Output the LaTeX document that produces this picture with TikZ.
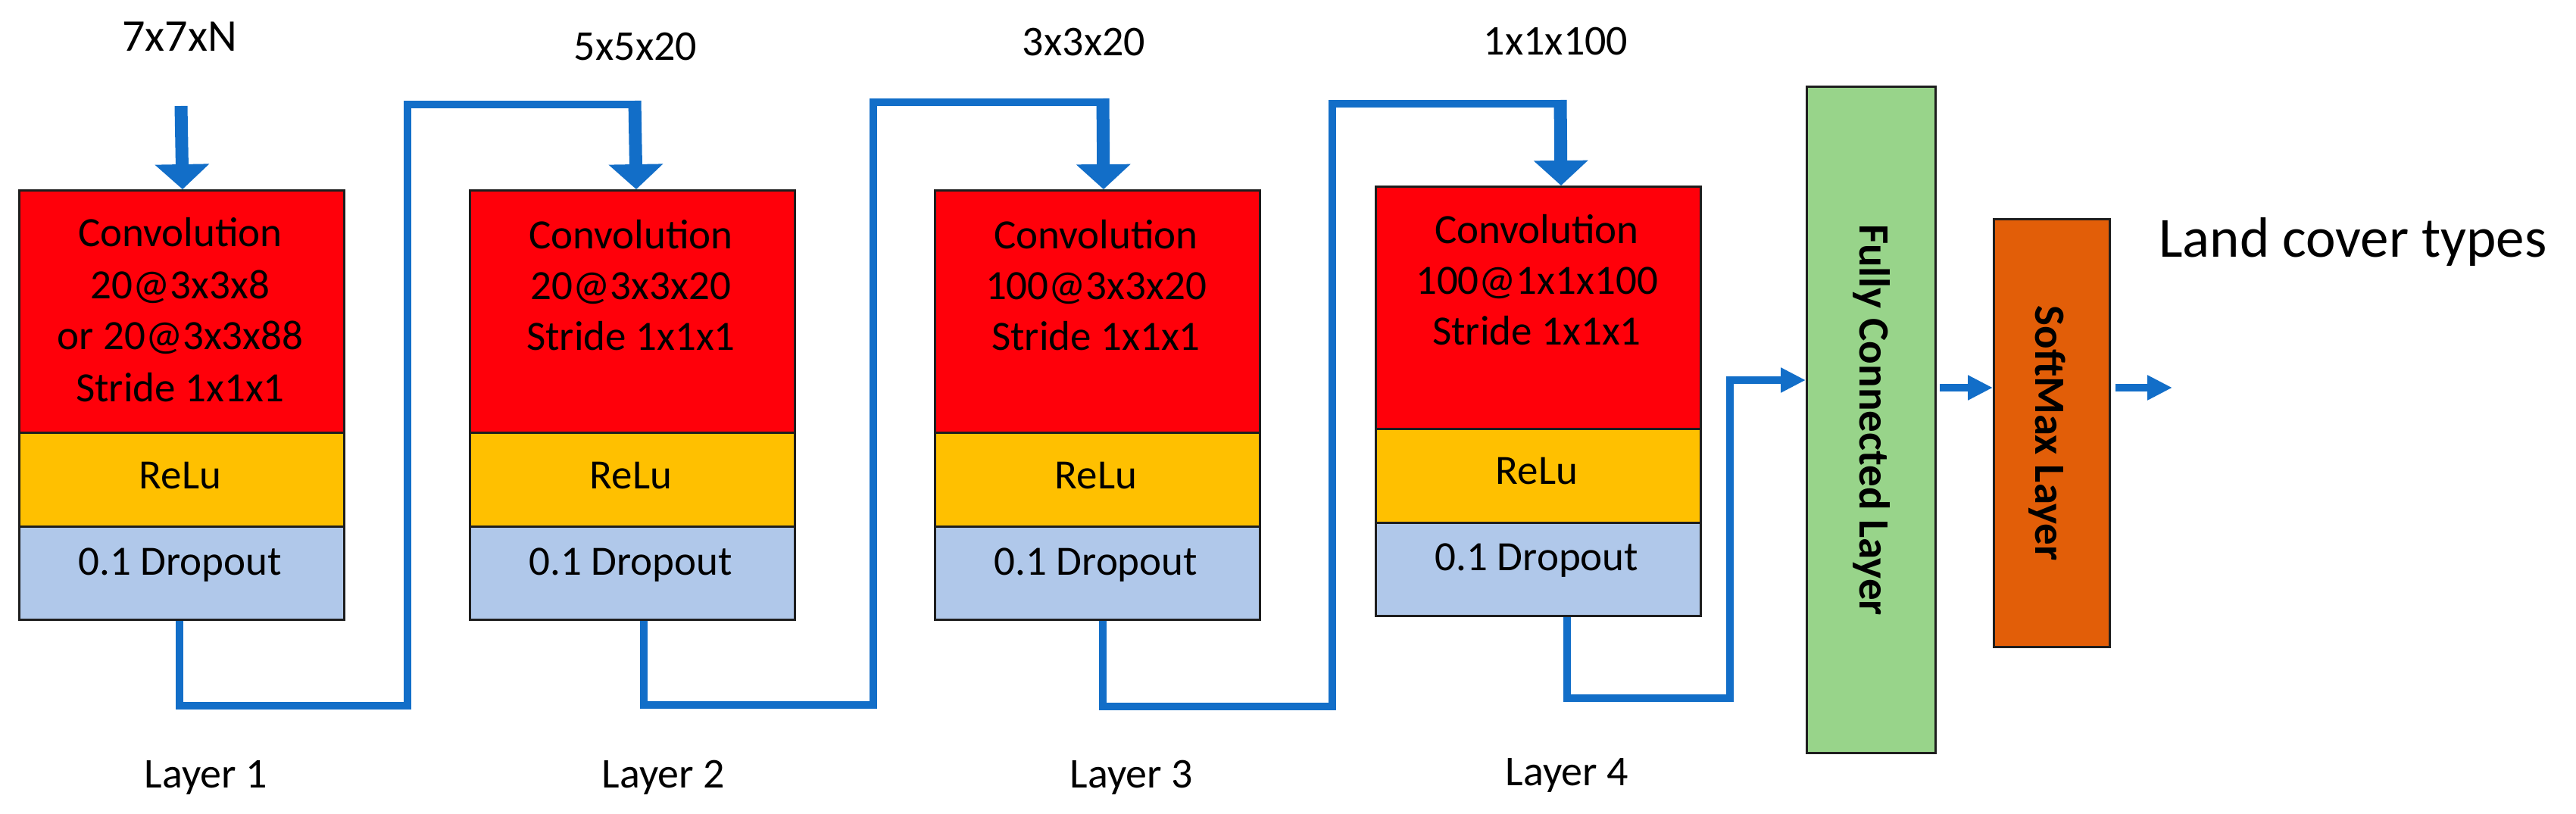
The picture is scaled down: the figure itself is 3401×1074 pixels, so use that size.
\documentclass[tikz,border=0pt]{standalone}
\usepackage{fontspec}
\setmainfont{Carlito}
\usetikzlibrary{arrows.meta}
\definecolor{convred}{RGB}{255,0,10}
\definecolor{reluyel}{RGB}{255,192,0}
\definecolor{dropblue}{RGB}{176,200,234}
\definecolor{fcgreen}{RGB}{152,212,138}
\definecolor{smorange}{RGB}{226,94,8}
\definecolor{lineblue}{RGB}{18,110,200}
\definecolor{boxline}{RGB}{30,30,30}
\tikzset{
  lay/.style={draw=boxline, line width=3pt, inner sep=0pt, anchor=north west, minimum width=429pt},
  conv/.style={lay, fill=convred, minimum height=320pt},
  relu/.style={lay, fill=reluyel, minimum height=124pt},
  drop/.style={lay, fill=dropblue, minimum height=123pt},
  txt/.style={font=\fontsize{55}{66}\selectfont, anchor=base, inner sep=0pt},
  lbl/.style={font=\fontsize{56}{66}\selectfont, anchor=base, inner sep=0pt},
  vtxt/.style={font=\fontsize{57}{66}\selectfont\bfseries, rotate=-90, inner sep=0pt},
  conn/.style={draw=lineblue, line width=10pt},
  bigin/.style={draw=lineblue, line width=17pt, -{Triangle[width=70pt,length=33pt]}},
  smallin/.style={draw=lineblue, line width=10pt, -{Triangle[width=31pt,length=33pt]}},
}
\begin{document}
\begin{tikzpicture}[x=1pt,y=-1pt]
\useasboundingbox[fill=white] (0,0) rectangle (3401,1074);

% ---- layer blocks ----
\node[conv] (conv1) at (24,250) {};
\node[relu] (relu1) at (24,570) {};
\node[drop] (drop1) at (24,694) {};

\node[conv] (conv2) at (619,250) {};
\node[relu] (relu2) at (619,570) {};
\node[drop] (drop2) at (619,694) {};

\node[conv] (conv3) at (1233,250) {};
\node[relu] (relu3) at (1233,570) {};
\node[drop] (drop3) at (1233,694) {};

\node[conv] (conv4) at (1815,245) {};
\node[relu] (relu4) at (1815,565) {};
\node[drop] (drop4) at (1815,689) {};

\node[draw=boxline, line width=3pt, fill=fcgreen, inner sep=0pt, anchor=north west,
      minimum width=170pt, minimum height=880pt] (fc) at (2384,113) {};
\node[draw=boxline, line width=3pt, fill=smorange, inner sep=0pt, anchor=north west,
      minimum width=153pt, minimum height=565pt] (sm) at (2631,288) {};

% ---- block texts ----
\node[txt] (t1a) at (238,325) {Convolution};
\node[txt] (t1b) at (238,394) {20@3x3x8};
\node[txt] (t1c) at (238,461) {or 20@3x3x88};
\node[txt] (t1d) at (238,530) {Stride 1x1x1};
\node[txt] (t2a) at (833,328) {Convolution};
\node[txt] (t2b) at (833,395) {20@3x3x20};
\node[txt] (t2c) at (833,462) {Stride 1x1x1};
\node[txt] (t3a) at (1447,328) {Convolution};
\node[txt] (t3b) at (1447,395) {100@3x3x20};
\node[txt] (t3c) at (1447,462) {Stride 1x1x1};
\node[txt] (t4a) at (2029,321) {Convolution};
\node[txt] (t4b) at (2029,388) {100@1x1x100};
\node[txt] (t4c) at (2029,455) {Stride 1x1x1};

\node[txt] (r1) at (238,645) {ReLu};
\node[txt] (r2) at (833,645) {ReLu};
\node[txt] (r3) at (1447,645) {ReLu};
\node[txt] (r4) at (2029,639) {ReLu};
\node[txt] (d1) at (238,759) {0.1 Dropout};
\node[txt] (d2) at (833,759) {0.1 Dropout};
\node[txt] (d3) at (1447,759) {0.1 Dropout};
\node[txt] (d4) at (2029,753) {0.1 Dropout};

\node[vtxt] (fct) at (fc.center) {Fully Connected Layer};
\node[vtxt] (smt) at ([xshift=-6pt]sm.center) {SoftMax Layer};

% ---- outside labels ----
\node[lbl, font=\fontsize{60}{70}\selectfont] (s0) at (237,67) {7x7xN};
\node[lbl] (s1) at (839,79) {5x5x20};
\node[lbl] (s2) at (1431,73) {3x3x20};
\node[lbl] (s3) at (2054,72) {1x1x100};
\node[lbl] (l1) at (272,1040) {Layer 1};
\node[lbl] (l2) at (876,1040) {Layer 2};
\node[lbl] (l3) at (1494,1040) {Layer 3};
\node[lbl] (l4) at (2069,1037) {Layer 4};
\node[font=\fontsize{75}{86}\selectfont, anchor=base west, inner sep=0pt] (out) at (2850,339) {Land cover types};

% ---- coordinates for connector corners ----
\coordinate (in0) at (239,140);
\coordinate (k1b) at (538,932);
\coordinate (k1t) at (838,138);
\coordinate (k1s) at (838,133);
\coordinate (k2b) at (1153,931);
\coordinate (k2t) at (1456,135);
\coordinate (k2s) at (1456,130);
\coordinate (k3b) at (1759,933);
\coordinate (k3t) at (2060,137);
\coordinate (k3s) at (2060,132);
\coordinate (k4b) at (2284,922);
\coordinate (k4t) at (2284,502);
\coordinate (smout) at (2868,512);

% ---- connectors ----
\draw[bigin] (in0) -- ([xshift=1pt]conv1.north);

\draw[conn] ([xshift=-3pt]drop1.south) |- (k1b) |- (k1t);
\draw[bigin] (k1s) -- ([xshift=5pt]conv2.north);

\draw[conn] ([xshift=15pt]drop2.south) |- (k2b) |- (k2t);
\draw[bigin] (k2s) -- ([xshift=8pt]conv3.north);

\draw[conn] ([xshift=7pt]drop3.south) |- (k3b) |- (k3t);
\draw[bigin] (k3s) -- ([xshift=30pt]conv4.north);

\draw[conn] ([xshift=38pt]drop4.south) |- (k4b) -- (k4t);
\draw[smallin] ([xshift=-5pt]k4t) -- (k4t -| fc.west);

\draw[smallin] ([xshift=4pt]fc.east |- 0,512) -- (sm.west |- 0,512);
\draw[smallin] ([xshift=6pt]sm.east |- 0,512) -- (smout);
\end{tikzpicture}
\end{document}
